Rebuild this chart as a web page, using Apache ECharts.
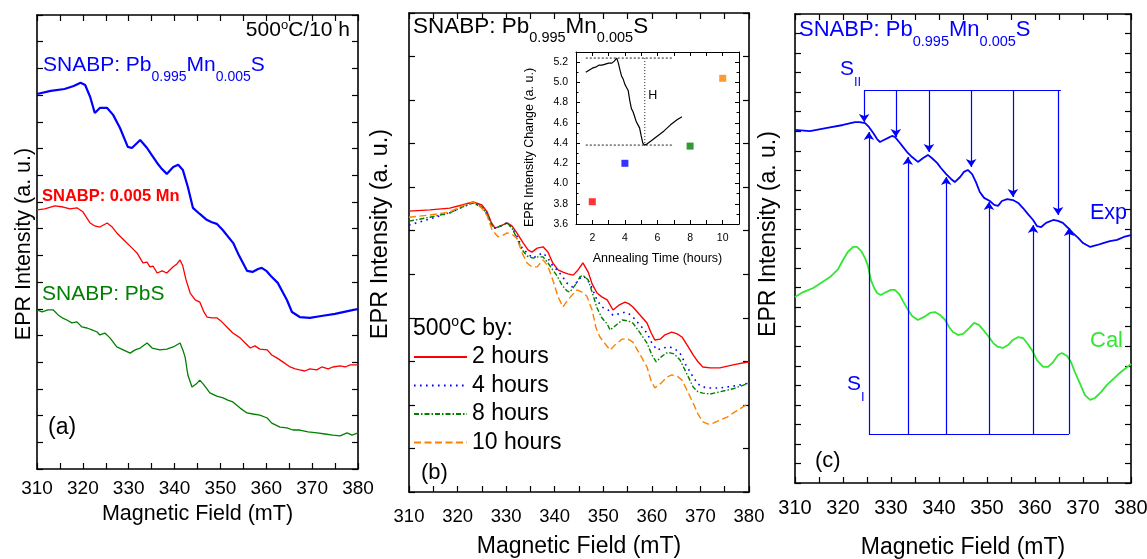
<!DOCTYPE html>
<html><head><meta charset="utf-8">
<script src="https://cdn.jsdelivr.net/npm/echarts@6/dist/echarts.min.js"></script>
<style>html,body{margin:0;padding:0;background:#fff}#c{width:1147px;height:559px}</style>
</head><body><div id="c"></div>
<script>
// ---------- DATA ----------
const fieldTicks = [310, 320, 330, 340, 350, 360, 370, 380];
// Panel (a): EPR intensity (a.u.) vs magnetic field (mT)
const aMnPbS = [[310,14.04],[313,14.16],[316,14.23],[318,14.34],[319.5,14.46],[320.5,14.38],[321.6,13.93],[322.6,13.33],[323.7,13.52],[325.3,13.52],[326.6,13.26],[328.1,12.77],[329.8,12.06],[330.7,12.02],[332.5,12.32],[334,12.02],[335,11.76],[336.2,11.46],[337.2,11.24],[338.3,11.05],[339.7,11.31],[340.8,11.39],[341.8,11.2],[342.9,10.56],[344,9.78],[345.5,9.55],[347,9.33],[348,9.25],[349.2,9.18],[350.5,8.95],[352.8,8.46],[354,8.01],[355.8,7.42],[357,7.38],[358.2,7.49],[359,7.53],[360,7.42],[361,7.23],[362.5,6.97],[364.5,6.33],[365.6,5.88],[367.3,5.69],[369.5,5.66],[372,5.73],[375,5.81],[378,5.92],[380,5.99]];
const aMn = [[310,9.70],[311.7,9.74],[313.9,9.85],[315.7,9.81],[317.2,9.74],[318.7,9.78],[320,9.63],[321.6,9.21],[322.6,9.10],[323.7,9.06],[325.3,9.21],[326.4,9.06],[327.4,8.84],[328.5,8.65],[329.6,8.46],[330.7,8.28],[331.8,8.09],[333.1,7.72],[334,7.75],[334.6,7.57],[335.3,7.6],[336.2,7.34],[337.3,7.42],[338.3,7.34],[339.7,7.57],[340.5,7.68],[341.2,7.83],[341.8,7.6],[342.5,7.08],[343.4,6.59],[344.5,6.33],[345.5,6.25],[346.4,5.88],[347.1,5.69],[348.2,5.66],[349.2,5.66],[350.3,5.51],[351.4,5.32],[352.7,5.09],[354.3,4.91],[355.4,4.72],[356.5,4.53],[357.5,4.61],[358.6,4.49],[360.2,4.46],[361.2,4.27],[362.3,4.16],[363.6,4.01],[365.2,3.82],[366.3,3.75],[367.3,3.71],[368.4,3.67],[369.5,3.75],[371,3.71],[372.1,3.82],[373.5,3.75],[374.5,3.82],[376.1,3.86],[377.2,3.82],[378.3,3.9],[380,3.9]];
const aPbS = [[310,5.96],[311.1,5.88],[312.4,5.96],[313.5,5.96],[314.6,5.77],[315.5,5.66],[316.5,5.58],[317.6,5.47],[318.7,5.51],[319.8,5.32],[320.9,5.28],[322,5.21],[323.1,5.13],[323.7,5.02],[324.8,5.09],[325.9,4.91],[327.4,4.57],[328.8,4.46],[330.3,4.34],[331.4,4.46],[332.5,4.53],[334,4.72],[335.1,4.53],[336.8,4.46],[338.3,4.49],[339.7,4.57],[341.2,4.72],[341.8,4.46],[342.3,4.19],[342.9,3.52],[343.8,3.07],[344.7,3.18],[345.5,3.33],[346.4,3.15],[347.7,2.85],[349.2,2.73],[350.6,2.66],[351.6,2.58],[352.7,2.51],[354.3,2.28],[355.8,2.1],[357.1,2.06],[358.6,2.02],[360.2,1.91],[361.2,1.72],[363,1.57],[364.5,1.54],[365.8,1.46],[367.3,1.46],[369.1,1.39],[371.1,1.35],[372.8,1.31],[374.5,1.27],[376.1,1.24],[377.6,1.35],[378.7,1.27],[380,1.35]];
// Panel (b): annealing at 500 C
const b2h = [[310,6.45],[314.3,6.48],[318.4,6.52],[320.9,6.59],[323.2,6.66],[325,6.59],[326.1,6.43],[326.9,6.2],[327.7,6.06],[328.9,6.11],[330.2,6.18],[331.2,6.11],[332.2,5.95],[333.5,5.72],[334.5,5.56],[335.3,5.51],[336.4,5.6],[337.6,5.63],[338.6,5.51],[339.6,5.26],[340.7,5.1],[341.7,5.05],[342.7,5.01],[343.8,4.98],[344.8,5.1],[345.8,5.26],[346.9,5.05],[347.7,4.78],[348.7,4.57],[349.7,4.48],[350.8,4.41],[352,4.18],[353.2,4.29],[354.5,4.36],[355.3,4.32],[356.1,4.25],[357.6,4.06],[359,3.88],[359.8,3.67],[360.6,3.49],[361.7,3.51],[362.7,3.61],[364.1,3.67],[365.2,3.63],[366.2,3.56],[367.4,3.35],[368.5,3.15],[369.5,2.99],[370.5,2.87],[372,2.85],[374,2.85],[376.7,2.92],[380,2.99]];
const b4h = [[310,6.13],[314.3,6.27],[318.4,6.41],[320.9,6.54],[323.2,6.64],[325,6.54],[326.1,6.38],[326.9,6.15],[327.7,6.06],[328.9,6.11],[330.2,6.18],[331.2,6.06],[332.2,5.88],[333.3,5.6],[334.3,5.49],[335.5,5.37],[336.6,5.44],[337.6,5.49],[338.6,5.37],[339.6,5.19],[340.5,5.1],[341.5,4.96],[342.5,4.8],[343.6,4.71],[344.6,4.82],[345.6,4.96],[346.6,4.91],[347.7,4.68],[348.7,4.41],[349.7,4.25],[351,4.18],[352,4.06],[353.2,4.09],[354.5,4.13],[355.3,4.09],[356.1,4.02],[357.6,3.83],[359,3.65],[360,3.42],[361.1,3.26],[362.3,3.31],[363.7,3.33],[364.8,3.28],[365.8,3.19],[367,2.92],[368.5,2.64],[369.5,2.48],[370.5,2.41],[372,2.39],[374,2.39],[376.7,2.43],[380,2.5]];
const b8h = [[310,6.22],[314.3,6.31],[318.4,6.41],[320.9,6.54],[323.2,6.64],[325,6.54],[326.1,6.38],[326.9,6.15],[327.7,6.06],[328.9,6.11],[330.2,6.18],[331.2,6.06],[332.2,5.83],[333.3,5.56],[334.3,5.42],[335.5,5.37],[336.6,5.4],[337.6,5.4],[338.6,5.26],[339.6,5.1],[340.5,4.96],[341.5,4.75],[342.5,4.62],[343.1,4.59],[344.2,4.75],[345.2,4.94],[345.8,4.98],[346.9,4.87],[347.7,4.59],[348.7,4.23],[349.7,4.0],[350.8,3.86],[351.4,3.72],[352.6,3.83],[353.9,3.95],[355.1,3.93],[356.1,3.88],[357.6,3.65],[359,3.42],[360,3.15],[360.9,2.99],[362.1,3.12],[363.3,3.21],[364.6,3.17],[365.8,3.03],[367,2.76],[368.5,2.41],[369.5,2.3],[370.5,2.27],[372,2.25],[374,2.3],[376.7,2.37],[380,2.5]];
const b10h = [[310,6.31],[314.3,6.36],[318.4,6.43],[320.9,6.57],[323.2,6.66],[325,6.52],[326.1,6.34],[327.1,6.02],[328.3,5.86],[329.4,5.9],[330.2,5.95],[331.2,5.92],[332.2,5.83],[333.3,5.49],[334.3,5.26],[335.3,5.17],[336.4,5.17],[337.6,5.33],[338.6,5.19],[339.6,4.87],[340.7,4.48],[341.7,4.25],[342.7,4.41],[343.8,4.55],[344.6,4.64],[345.6,4.59],[346.6,4.5],[347.7,4.18],[348.5,3.77],[349.3,3.56],[350.4,3.4],[351.4,3.26],[352.6,3.4],[353.9,3.51],[355.1,3.51],[356.1,3.44],[357.6,3.15],[359,2.87],[359.8,2.57],[360.6,2.39],[361.9,2.5],[363.1,2.64],[364.1,2.69],[365.2,2.66],[366.2,2.57],[367.4,2.3],[368.5,2.04],[369.5,1.79],[370.5,1.61],[371.6,1.56],[372.6,1.58],[374,1.65],[375.5,1.72],[376.7,1.81],[378.1,1.91],[380,2.04]];
const bLegend = ['2 hours', '4 hours', '8 hours', '10 hours'];
// Inset: intensity change vs annealing time
const insetTime = [2, 4, 8, 10];
const insetChange = [3.82, 4.20, 4.37, 5.04];
const insetColors = ['#ff0000', '#0000ff', '#008000', '#ff8000'];
const insetTrace = [[1.6,5.10],[1.8,5.12],[2.0,5.14],[2.2,5.15],[2.4,5.17],[2.6,5.17],[2.8,5.18],[3.0,5.19],[3.2,5.19],[3.35,5.21],[3.5,5.24],[3.6,5.19],[3.7,5.12],[3.8,5.06],[3.9,5.03],[4.0,4.98],[4.1,4.95],[4.2,4.92],[4.3,4.82],[4.4,4.74],[4.5,4.71],[4.6,4.66],[4.7,4.61],[4.8,4.58],[4.9,4.55],[5.0,4.47],[5.1,4.40],[5.2,4.38],[5.35,4.39],[5.6,4.42],[6.0,4.47],[6.4,4.52],[6.8,4.58],[7.2,4.63],[7.5,4.66]];
const insetHigh = 5.24, insetLow = 4.38, insetGuideX = [1.6, 6.9], insetHx = 5.22;
// Panel (c): experiment vs calculation
const cExp = [[310,18.07],[313.1,18.01],[316.7,18.17],[320,18.32],[322.5,18.47],[323.5,18.47],[324.6,18.42],[325.4,18.22],[326.3,17.91],[327.1,17.6],[327.7,17.45],[328.5,17.55],[329.4,17.66],[330.2,17.76],[330.8,17.71],[331.7,17.45],[332.5,17.2],[333.5,16.89],[334.4,16.68],[335.6,16.43],[336.7,16.63],[337.7,16.79],[338.5,16.63],[339.6,16.38],[340.4,16.12],[341.5,15.81],[342.5,15.56],[343.3,15.4],[344.4,15.66],[345.2,15.92],[346,16.02],[346.9,15.81],[347.7,15.4],[348.5,14.89],[349.4,14.59],[350.6,14.43],[351.5,14.23],[352.3,14.18],[353.1,14.43],[354.2,14.53],[355.4,14.48],[356.5,14.33],[357.5,14.07],[358.5,13.77],[359.6,13.46],[360.4,13.15],[361.3,13.1],[362.3,13.31],[363.8,13.46],[364.8,13.41],[365.8,13.31],[366.9,13.05],[367.9,12.79],[369,12.54],[370,12.28],[371.5,12.08],[373,12.18],[374.2,12.28],[375.6,12.38],[377.1,12.44],[378.5,12.59],[380,12.69]];
const cCal = [[310,9.52],[311.7,9.77],[313.8,9.98],[315.4,10.24],[317.3,10.54],[319,10.95],[320,11.41],[321,11.82],[322.1,12.08],[322.9,12.08],[323.8,11.87],[324.6,11.51],[325.2,11.11],[325.8,10.39],[326.5,9.98],[327.1,9.72],[327.9,9.62],[329,9.77],[330,9.88],[330.8,9.88],[331.7,9.67],[332.5,9.31],[333.3,8.96],[334.4,8.55],[335.6,8.34],[336.9,8.5],[338.1,8.7],[339.2,8.75],[340.2,8.6],[341.3,8.34],[342.1,7.98],[342.9,7.73],[344,7.57],[345,7.63],[346.3,7.93],[347.3,8.19],[348.3,8.09],[349.4,7.78],[350.4,7.47],[351.3,7.16],[352.3,6.96],[353.3,6.91],[354.4,7.06],[355.4,7.32],[356.5,7.47],[357.5,7.42],[358.5,7.11],[359.6,6.7],[360.4,6.29],[361.7,5.94],[362.7,5.94],[363.8,6.19],[364.8,6.55],[365.6,6.65],[366.7,6.5],[367.5,6.19],[368.3,5.68],[369.4,5.07],[370.4,4.5],[371.5,4.25],[372.5,4.35],[373.8,4.66],[375,5.02],[376.5,5.37],[377.9,5.68],[380,6.09]];
const sIIField = [324.4, 331.0, 337.9, 346.7, 355.4, 364.8];
const sIITip = [18.47, 17.71, 16.94, 16.17, 14.64, 13.72];
const sIILevel = 20.11;
const sIField = [325.4, 333.5, 341.5, 350.4, 359.6, 367.1];
const sITip = [17.96, 16.68, 15.66, 14.38, 13.2, 13.05];
const sILevel = 2.51;

// ---------- CHART ----------
const FONT = '"Liberation Sans", Arial, Helvetica, sans-serif';
const chart = echarts.init(document.getElementById('c'), null, {renderer: 'canvas'});

function xField(gi, pos, fs, margin, nameFs, gap) {
  const o = {type:'value', gridIndex:gi, position:pos, min:310, max:380, interval:10,
    axisLine:{onZero:false, lineStyle:{color:'#000', width:1.6}},
    axisTick:{show:true, inside:true, length:6, lineStyle:{color:'#000', width:1.2}},
    minorTick:{show:true, splitNumber:2, length:6, lineStyle:{color:'#000', width:1.2}},
    splitLine:{show:false}, minorSplitLine:{show:false},
    axisLabel:{show:pos==='bottom', fontSize:fs, margin:margin, color:'#000', fontFamily:FONT,
      formatter: v => fieldTicks.includes(v) ? String(v) : ''}};
  if (pos === 'bottom') {
    o.name = 'Magnetic Field (mT)'; o.nameLocation = 'middle'; o.nameGap = gap;
    o.nameTextStyle = {fontSize:nameFs, color:'#000', fontFamily:FONT};
  }
  return o;
}
function yPlain(gi, pos, max) {
  return {type:'value', gridIndex:gi, position:pos, min:0, max:max, interval:1,
    axisLine:{show:true, onZero:false, lineStyle:{color:'#000', width:1.6}},
    axisTick:{show:true, inside:true, length:6, lineStyle:{color:'#000', width:1.2}},
    axisLabel:{show:false}, splitLine:{show:false}};
}
function xInset(pos) {
  const o = {type:'value', gridIndex:3, position:pos, min:1, max:11, interval:1,
    axisLine:{onZero:false, lineStyle:{color:'#000', width:1}},
    axisTick:{show:true, inside:true, length:4, lineStyle:{color:'#000', width:1}},
    splitLine:{show:false},
    axisLabel:{show:pos==='bottom', fontSize:10.5, margin:9, color:'#000', fontFamily:FONT,
      formatter: v => (v % 2 === 0 ? String(v) : '')}};
  if (pos === 'bottom') {
    o.name = 'Annealing Time (hours)'; o.nameLocation = 'middle'; o.nameGap = 28;
    o.nameTextStyle = {fontSize:12.5, color:'#000', fontFamily:FONT};
  }
  return o;
}
function yInset(pos) {
  return {type:'value', gridIndex:3, position:pos, min:3.6, max:5.3, interval:0.2,
    axisLine:{onZero:false, lineStyle:{color:'#000', width:1}},
    axisTick:{show:true, inside:true, length:4, lineStyle:{color:'#000', width:1}},
    minorTick:{show:true, splitNumber:2, length:2.5, lineStyle:{color:'#000', width:1}},
    splitLine:{show:false}, minorSplitLine:{show:false},
    axisLabel:{show:pos==='left', fontSize:10.5, margin:8, color:'#000', fontFamily:FONT,
      showMaxLabel:false, formatter: v => v.toFixed(1)}};
}

function lineSeries(name, xi, data, color, width, type) {
  return {name, type:'line', xAxisIndex:xi, yAxisIndex:xi, data, symbol:'none', showSymbol:false,
    silent:true, animation:false,
    lineStyle:{color, width, type: type || 'solid'}, itemStyle:{color}};
}

function rt(x, y, text, rich, fill, align, extra) {
  return Object.assign({type:'text', x, y, z:20, silent:true,
    style:{text, rich, fill, align: align || 'left', verticalAlign:'middle', fontFamily:FONT}}, extra || {});
}
function plain(x, y, text, fs, fill, opts) {
  opts = opts || {};
  return {type:'text', x, y, z:20, silent:true, rotation: opts.rotation || 0,
    style:{text, fill, fontSize:fs, fontFamily:FONT, fontWeight: opts.bold ? 'bold' : 'normal',
      align: opts.align || 'left', verticalAlign:'middle'}};
}
function formulaRich(mainFs, subFs, lh) {
  return {m:{fontSize:mainFs, lineHeight:lh, fontFamily:FONT},
          s:{fontSize:subFs, lineHeight:subFs, verticalAlign:'bottom', fontFamily:FONT}};
}
const formula = '{m|SNABP: Pb}{s|0.995}{m|Mn}{s|0.005}{m|S}';

const arrowsII = sIIField.map((f, i) => ({coords:[[f, sIILevel], [f, sIITip[i]]]}));
const arrowsI = sIField.map((f, i) => ({coords:[[f, sILevel], [f, sITip[i]]]}));
const bars = [
  {coords:[[sIIField[0], sIILevel], [sIIField[sIIField.length-1] + 0.6, sIILevel]]},
  {coords:[[sIField[0], sILevel], [sIField[sIField.length-1], sILevel]]}
];

const option = {
  animation:false,
  backgroundColor:'#fff',
  textStyle:{fontFamily:FONT},
  grid:[
    {left:37, top:15, width:321, height:454, containLabel:false, outerBoundsMode:'none'},
    {left:409, top:13, width:340, height:479, containLabel:false, outerBoundsMode:'none'},
    {left:795, top:14, width:336, height:469, containLabel:false, outerBoundsMode:'none'},
    {left:576, top:52, width:163, height:172, containLabel:false, outerBoundsMode:'none'}
  ],
  xAxis:[
    xField(0,'bottom',19,10,21.5,33), xField(0,'top'),
    xField(1,'bottom',18.5,15.5,23,43.5), xField(1,'top'),
    xField(2,'bottom',20,15.5,23,53), xField(2,'top'),
    xInset('bottom'), xInset('top')
  ],
  yAxis:[
    yPlain(0,'left',17), yPlain(0,'right',17),
    yPlain(1,'left',11), yPlain(1,'right',11),
    yPlain(2,'left',24), yPlain(2,'right',24),
    yInset('left'), yInset('right')
  ],
  legend:{
    orient:'vertical', left:413, top:345, padding:0, itemWidth:53, itemHeight:14, itemGap:4.5,
    data:bLegend.map(n => ({name:n, itemStyle:{opacity:0}})), selectedMode:false,
    itemStyle:{opacity:0},
    textStyle:{fontSize:23, color:'#000', fontFamily:FONT, lineHeight:24}
  },
  series:[
    lineSeries('a-Mn-PbS', 0, aMnPbS, '#0000ff', 2.2),
    lineSeries('a-Mn', 0, aMn, '#ff0000', 1.3),
    lineSeries('a-PbS', 0, aPbS, '#008000', 1.3),
    lineSeries('2 hours', 2, b2h, '#ff0000', 1.4),
    lineSeries('4 hours', 2, b4h, '#0000ff', 1.6, [1.6, 4.4]),
    lineSeries('8 hours', 2, b8h, '#008000', 1.4, [5, 2, 1.5, 2]),
    lineSeries('10 hours', 2, b10h, '#ff8000', 1.4, [7, 3.5]),
    lineSeries('Exp', 4, cExp, '#0000ff', 1.8),
    lineSeries('Cal', 4, cCal, '#33e633', 1.8),
    {type:'lines', coordinateSystem:'cartesian2d', xAxisIndex:4, yAxisIndex:4, silent:true,
      symbol:['none','arrow'], symbolSize:[0, 8], data:arrowsII.concat(arrowsI),
      lineStyle:{color:'#0000ff', width:1.2, opacity:1, curveness:0}, z:5},
    {type:'lines', coordinateSystem:'cartesian2d', xAxisIndex:4, yAxisIndex:4, silent:true,
      symbol:'none', data:bars, lineStyle:{color:'#0000ff', width:1.2, opacity:1, curveness:0}, z:5},
    lineSeries('trace', 6, insetTrace, '#000', 1.2),
    lineSeries('guideHigh', 6, [[insetGuideX[0], insetHigh], [insetGuideX[1], insetHigh]], '#000', 0.9, [2, 2]),
    lineSeries('guideLow', 6, [[insetGuideX[0], insetLow], [insetGuideX[1], insetLow]], '#000', 0.9, [2, 2]),
    lineSeries('guideH', 6, [[insetHx, insetHigh], [insetHx, insetLow]], '#000', 0.9, [1, 2]),
    {type:'scatter', xAxisIndex:6, yAxisIndex:6, symbol:'rect', symbolSize:7, silent:true,
      data: insetTime.map((t, i) => ({value:[t, insetChange[i]], itemStyle:{color:insetColors[i]}}))}
  ],
  graphic:{elements:[
    // axis titles
    plain(24, 244, 'EPR Intensity (a. u.)', 21.5, '#000', {align:'center', rotation:Math.PI/2}),
    plain(381, 234, 'EPR Intensity (a. u.)', 23.5, '#000', {align:'center', rotation:Math.PI/2}),
    plain(769, 234, 'EPR Intensity (a. u.)', 23, '#000', {align:'center', rotation:Math.PI/2}),
    plain(530, 147.5, 'EPR Intensity Change (a. u.)', 12.5, '#000', {align:'center', rotation:Math.PI/2}),
    // panel (a)
    rt(350, 30, '{m|500}{o|o}{m|C/10 h}',
      {m:{fontSize:21, lineHeight:23, fontFamily:FONT}, o:{fontSize:13, lineHeight:13, verticalAlign:'top', fontFamily:FONT}}, '#000', 'right'),
    rt(43, 65.5, formula, formulaRich(21, 14, 37), '#0000ff'),
    plain(42, 196, 'SNABP: 0.005 Mn', 16.5, '#ff0000', {bold:true}),
    plain(42, 294, 'SNABP: PbS', 21, '#008000'),
    plain(48, 428, '(a)', 23, '#000'),
    // panel (b)
    rt(413, 26.5, formula, formulaRich(22.5, 14.5, 38), '#000'),
    rt(413, 328.5, '{m|500}{o|o}{m|C by:}',
      {m:{fontSize:23, lineHeight:27, fontFamily:FONT}, o:{fontSize:14, lineHeight:14, verticalAlign:'top', fontFamily:FONT}}, '#000'),
    plain(421, 473, '(b)', 22, '#000'),
    plain(652.7, 96, 'H', 12.5, '#000', {align:'center'}),
    // panel (c)
    rt(799, 29.5, formula, formulaRich(22, 14.5, 39), '#0000ff'),
    rt(840, 69.5, '{m|S}{s|II}', formulaRich(21, 13, 39), '#0000ff'),
    rt(847, 384.5, '{m|S}{s|I}', formulaRich(21, 13, 39), '#0000ff'),
    plain(1090, 213, 'Exp', 21.5, '#0000ff'),
    plain(1090, 341, 'Cal', 22, '#33e633'),
    plain(815, 461, '(c)', 22, '#000')
  ]}
};
chart.setOption(option);
</script>
</body></html>
